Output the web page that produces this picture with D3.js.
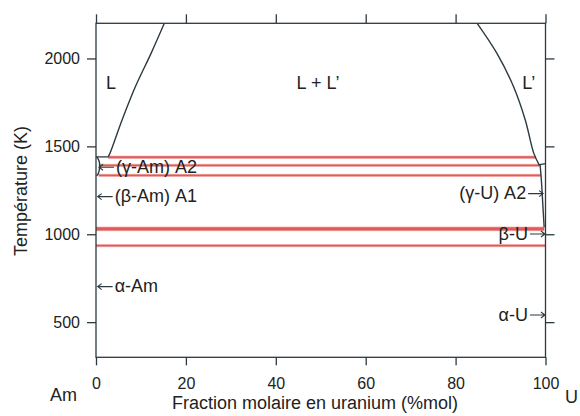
<!DOCTYPE html>
<html>
<head>
<meta charset="utf-8">
<script src="https://cdn.jsdelivr.net/npm/d3@7"></script>
<style>
  body { margin: 0; background: #fff; }
  text { font-family: "Liberation Sans", Arial, Helvetica, sans-serif; fill: #222; }
</style>
</head>
<body>
<svg width="580" height="416"></svg>
<script>
// liquidus curves (x = %mol U, y = T in K)
var leftLiquidus = [[15.2, 2200], [12.25, 2029], [8.75, 1839], [5.8, 1650], [3.1, 1460], [2.7, 1440]];
var rightLiquidus = [[84.8, 2200], [89.2, 2029], [92.9, 1839], [95.5, 1650], [97.4, 1460], [98.6, 1395]];
// little solid phase boundaries near the pure ends
var amBoundary = [[0, 1440], [2.7, 1440]];
var amSolvus = [[0.2, 1440], [0.7, 1415], [0.8, 1380], [0.5, 1345], [0.1, 1333]];
var uMelt = [[98.4, 1395], [100, 1402]];
var uSolvus = [[98.8, 1395], [99.1, 1300], [99.4, 1170], [99.7, 1040]];

// red isotherms
var isoTemps = [1438, 1392, 1335, 1035, 1027, 935];
var isoStart = [2.7, 0.7, 0.6, 0, 0, 0];
var isoEnd = [97.9, 98.7, 99.0, 99.7, 99.7, 100];

var xTicks = [0, 20, 40, 60, 80, 100];
var yTicks = [500, 1000, 1500, 2000];

// labels pointing left (arrow tip at x, T)
var amLabels = ["(\u03b3-Am) A2", "(\u03b2-Am) A1", "\u03b1-Am"];
var amTipX = [0.45, 0.15, 0.15];
var amT = [1350, 1183, 671];

// labels pointing right
var uLabels = ["(\u03b3-U) A2", "\u03b2-U", "\u03b1-U"];
var uTipX = [99.7, 100.1, 100.1];
var uT = [1200, 970, 509];

var svg = d3.select("svg"),
    margin = {top: 23.3, right: 34.5, bottom: 58.7, left: 96},
    width = +svg.attr("width"),
    height = +svg.attr("height");

var x = d3.scaleLinear()
    .domain([0, 100])
    .range([margin.left, width - margin.right]);

var y = d3.scaleLinear()
    .domain([300, 2200])
    .range([height - margin.bottom, margin.top]);

var ink = "#2c3a40";

// isotherms first, behind the curves
isoTemps.forEach(function(t, i) {
    svg.append("line")
        .attr("x1", x(isoStart[i])).attr("x2", x(isoEnd[i]))
        .attr("y1", y(t)).attr("y2", y(t))
        .attr("stroke", "#f6c4c0")
        .attr("stroke-width", 3.4);
});
isoTemps.forEach(function(t, i) {
    svg.append("line")
        .attr("x1", x(isoStart[i])).attr("x2", x(isoEnd[i]))
        .attr("y1", y(t)).attr("y2", y(t))
        .attr("stroke", "#e05a58")
        .attr("stroke-width", 1.8);
});

// frame
svg.append("rect")
    .attr("x", x(0)).attr("y", y(2200))
    .attr("width", x(100) - x(0))
    .attr("height", y(300) - y(2200))
    .attr("fill", "none")
    .attr("stroke", ink)
    .attr("stroke-width", 1.3);

function styleAxis(g) {
    g.select(".domain").remove();
    g.selectAll(".tick line").attr("stroke", ink).attr("stroke-width", 1.3);
    g.selectAll(".tick text").attr("font-size", 16).attr("fill", "#222")
        .attr("font-family", "Liberation Sans, Arial, sans-serif");
}

svg.append("g")
    .attr("transform", "translate(0," + y(300) + ")")
    .call(d3.axisBottom(x).tickValues(xTicks).tickSize(8).tickPadding(12).tickFormat(d3.format("d")))
    .call(styleAxis);

svg.append("g")
    .attr("transform", "translate(0," + y(2200) + ")")
    .call(d3.axisTop(x).tickValues(xTicks).tickSize(9).tickFormat(""))
    .call(styleAxis);

svg.append("g")
    .attr("transform", "translate(" + x(0) + ",0)")
    .call(d3.axisLeft(y).tickValues(yTicks).tickSize(9).tickPadding(7).tickFormat(d3.format("d")))
    .call(styleAxis);

svg.append("g")
    .attr("transform", "translate(" + x(100) + ",0)")
    .call(d3.axisRight(y).tickValues(yTicks).tickSize(9).tickFormat(""))
    .call(styleAxis);

var line = d3.line()
    .x(function(d) { return x(d[0]); })
    .y(function(d) { return y(d[1]); });

var smooth = d3.line()
    .curve(d3.curveCatmullRom)
    .x(function(d) { return x(d[0]); })
    .y(function(d) { return y(d[1]); });

[leftLiquidus, rightLiquidus, uSolvus, amSolvus].forEach(function(pts) {
    svg.append("path")
        .datum(pts)
        .attr("fill", "none")
        .attr("stroke", ink)
        .attr("stroke-width", 1.4)
        .attr("d", smooth);
});
[amBoundary, uMelt].forEach(function(pts) {
    svg.append("path")
        .datum(pts)
        .attr("fill", "none")
        .attr("stroke", ink)
        .attr("stroke-width", 1.3)
        .attr("d", line);
});

// phase labels
svg.append("text")
    .attr("x", x(2.2)).attr("y", y(1826))
    .attr("font-size", 18)
    .text("L");

svg.append("text")
    .attr("x", x(49.4)).attr("y", y(1826))
    .attr("text-anchor", "middle")
    .attr("font-size", 18)
    .text("L + L\u2019");

svg.append("text")
    .attr("x", x(94.8)).attr("y", y(1826))
    .attr("font-size", 18)
    .text("L\u2019");

// arrows drawn as thin lines with an open head
function arrow(tipX, tipY, dir) {
    var len = 15, hx = 4, hy = 3;
    svg.append("path")
        .attr("fill", "none")
        .attr("stroke", ink)
        .attr("stroke-width", 1.1)
        .attr("d", "M" + (tipX + dir * len) + "," + tipY + "H" + tipX +
            "M" + (tipX + dir * hx) + "," + (tipY - hy) + "L" + tipX + "," + tipY +
            "L" + (tipX + dir * hx) + "," + (tipY + hy));
}

amLabels.forEach(function(s, i) {
    var tx = x(amTipX[i]), ty = y(amT[i]);
    arrow(tx + 1, ty - 5.5, 1);
    svg.append("text")
        .attr("x", tx + 18).attr("y", ty)
        .attr("font-size", 18)
        .text(s);
});

uLabels.forEach(function(s, i) {
    var tx = x(uTipX[i]), ty = y(uT[i]);
    arrow(tx - 1, ty - 5.5, -1);
    svg.append("text")
        .attr("x", tx - 18).attr("y", ty)
        .attr("text-anchor", "end")
        .attr("font-size", 18)
        .text(s);
});

// axis titles
svg.append("text")
    .attr("transform", "translate(27,191) rotate(-90)")
    .attr("text-anchor", "middle")
    .attr("font-size", 18)
    .text("Température (K)");

svg.append("text")
    .attr("x", 315).attr("y", 409)
    .attr("text-anchor", "middle")
    .attr("font-size", 18)
    .text("Fraction molaire en uranium (%mol)");

svg.append("text")
    .attr("x", 50).attr("y", 401)
    .attr("font-size", 18)
    .text("Am");

svg.append("text")
    .attr("x", 565).attr("y", 403)
    .attr("font-size", 18)
    .text("U");
</script>
</body>
</html>
